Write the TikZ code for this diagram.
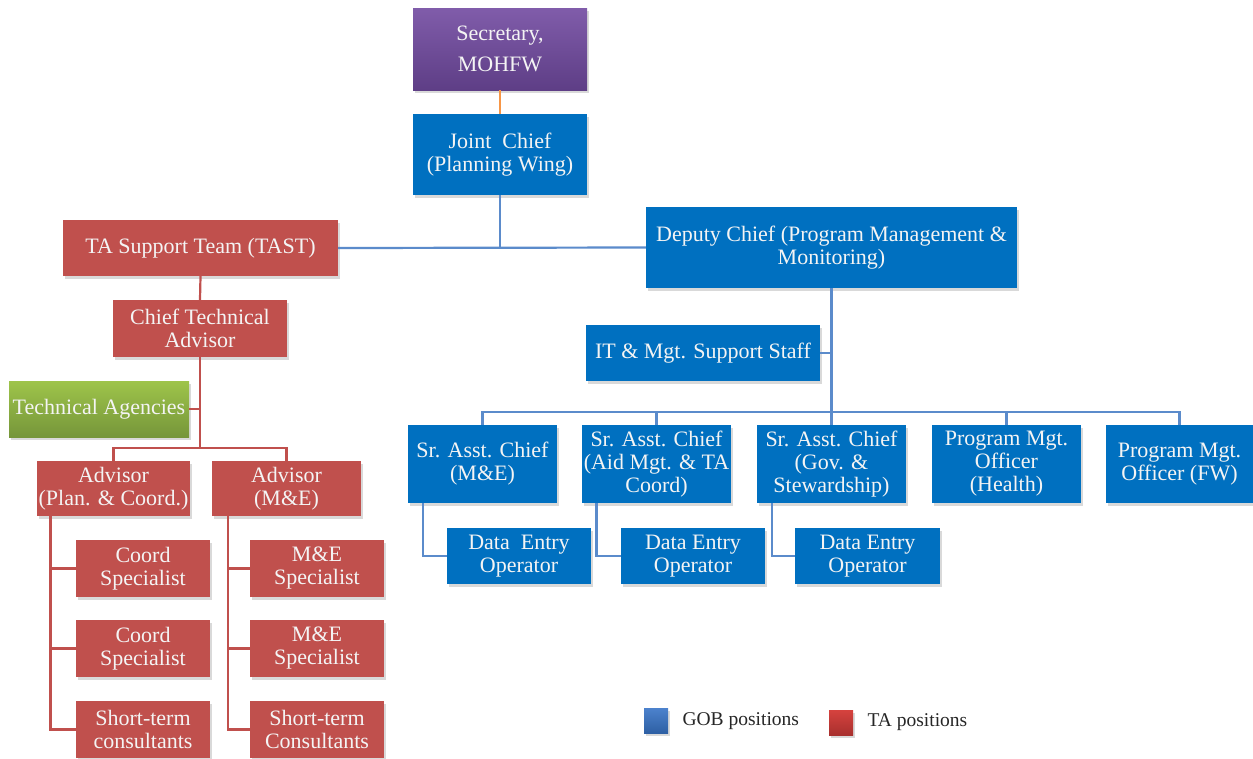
\documentclass[tikz,border=0pt]{standalone}
\usepackage{fontspec}
\setmainfont{Liberation Serif}
\usetikzlibrary{calc,shadows}
\definecolor{gobblue}{HTML}{0070C0}
\definecolor{tared}{HTML}{C0504D}
\definecolor{gobline}{HTML}{5B8BCB}
\definecolor{secline}{HTML}{F79646}
\definecolor{boxtext}{HTML}{F4F4F4}
\tikzstyle{post}=[
    draw=none, text=boxtext, align=center, inner sep=2pt,
    font=\fontsize{22}{23}\selectfont,
    drop shadow={shadow xshift=2pt,shadow yshift=-3pt,opacity=0.3}
    ]
\tikzstyle{gob}=[post,fill=gobblue]
\tikzstyle{ta}=[post,fill=tared]
\tikzstyle{goblink}=[draw=gobline,line width=2.2pt]
\tikzstyle{talink}=[draw=tared,line width=2.2pt]
\tikzstyle{keytext}=[anchor=west,font=\fontsize{19.5}{22}\selectfont,text=black!85]
\tikzset{boxsize/.style 2 args={minimum width=#1,minimum height=#2}}

\begin{document}
\begin{tikzpicture}[
x=1pt,y=-1pt
]
\useasboundingbox (0,0) rectangle (1253,758);
%top
\node[post,boxsize={174}{82},
  top color={rgb,255:red,128;green,92;blue,170},bottom color={rgb,255:red,94;green,62;blue,134},
  font=\fontsize{22}{31}\selectfont] (sec) at (500,49) {Secretary,\\MOHFW};
\node[gob,boxsize={174}{81}] (joint) at (500,154.5) {Joint\ \ Chief\\(Planning Wing)};
\node[ta,boxsize={275}{56}] (tast) at (200.5,248) {TA Support Team (TAST)};
\node[gob,boxsize={371}{81}] (deputy) at (831.5,247.5) {Deputy Chief (Program Management \&\\Monitoring)};
%TA side
\node[ta,boxsize={174}{57}] (cta) at (200,328.5) {Chief Technical\\Advisor};
\node[post,boxsize={180}{56},top color={rgb,255:red,158;green,196;blue,74},
  bottom color={rgb,255:red,118;green,150;blue,58}] (tagen) at (99,409) {Technical Agencies};
\node[ta,boxsize={149}{55}] (advpc) at (113.5,488.5) {Advisor\\(Plan. \& Coord.)};
\node[ta,boxsize={149}{55}] (advme) at (286.5,488.5) {Advisor\\(M\&E)};
\node[ta,boxsize={134}{57}] (coord1) at (143,568.5) {Coord\\Specialist};
\node[ta,boxsize={134}{57}] (coord2) at (143,648.5) {Coord\\Specialist};
\node[ta,boxsize={134}{57}] (stc1) at (143,729.5) {Short-term\\consultants};
\node[ta,boxsize={134}{57}] (mes1) at (317,568.5) {M\&E\\Specialist};
\node[ta,boxsize={134}{57}] (mes2) at (317,648.5) {M\&E\\Specialist};
\node[ta,boxsize={134}{57}] (stc2) at (317,729.5) {Short-term\\Consultants};
%GOB side
\node[gob,boxsize={234}{56}] (itstaff) at (703,353) {IT \& Mgt. Support Staff};
\node[gob,boxsize={149}{78}] (sac1) at (482.5,464) {Sr. Asst. Chief\\(M\&E)};
\node[gob,boxsize={149}{78}] (sac2) at (656.5,464) {Sr. Asst. Chief\\(Aid Mgt. \& TA\\Coord)};
\node[gob,boxsize={149}{78}] (sac3) at (831.5,464) {Sr. Asst. Chief\\(Gov. \&\\Stewardship)};
\node[gob,boxsize={149}{78}] (pmoh) at (1006.5,464) {Program Mgt.\\Officer\\(Health)};
\node[gob,boxsize={147}{78}] (pmofw) at (1179.5,464) {Program Mgt.\\Officer (FW)};
\node[gob,boxsize={144}{56}] (deo1) at (519,556) {Data\ \ Entry\\Operator};
\node[gob,boxsize={144}{56}] (deo2) at (693,556) {Data Entry\\Operator};
\node[gob,boxsize={145}{56}] (deo3) at (867.5,556) {Data Entry\\Operator};
%links
\draw[secline,line width=2.2pt] (sec.south) -- (joint.north);
\draw[goblink] (tast.east) -- (deputy.west);
\draw[goblink] (joint.south) -- (joint.south |- tast.east);
\draw[talink] (tast.south) -- (cta.north);
\draw[talink] (cta.south) -- ++(0,91) coordinate (ctabar);
\draw[talink] (tagen.east) -- (tagen.east -| cta.south);
\draw[talink] (advpc.north) |- (ctabar) -| (advme.north);
\foreach \n in {coord1,coord2,stc1}
  \draw[talink] ([xshift=14pt]advpc.south west) |- (\n.west);
\foreach \n in {mes1,mes2,stc2}
  \draw[talink] ([xshift=16pt]advme.south west) |- (\n.west);
\draw[goblink] (deputy.south) -- ++(0,124) coordinate (gobbar);
\draw[goblink] (itstaff.east) -- (itstaff.east -| gobbar);
\foreach \n in {sac1,sac2,sac3,pmoh,pmofw}
  \draw[goblink] (gobbar) -| (\n.north);
\foreach \s/\d in {sac1/deo1,sac2/deo2,sac3/deo3}
  \draw[goblink] ([xshift=15pt]\s.south west) |- (\d.west);
%legend
\node[post,boxsize={24}{25},top color={rgb,255:red,76;green,130;blue,205},
  bottom color={rgb,255:red,46;green,96;blue,164}] (gobkey) at (656,720.5) {};
\node[keytext] (gobtext) at (679,721) {GOB positions};
\node[post,boxsize={24}{25},top color={rgb,255:red,214;green,66;blue,62},
  bottom color={rgb,255:red,168;green,48;blue,46}] (takey) at (841,722.5) {};
\node[keytext] (tatext) at (864,722) {TA positions};
\end{tikzpicture}
\end{document}
